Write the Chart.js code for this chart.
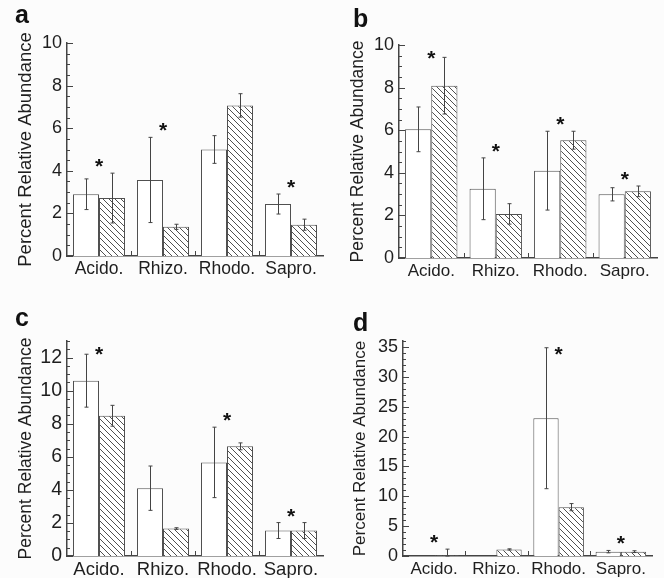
<!DOCTYPE html>
<html><head><meta charset="utf-8">
<script src="https://cdn.jsdelivr.net/npm/chart.js@4.4.1/dist/chart.umd.min.js"></script>
<style>
html,body{margin:0;padding:0;background:#fcfcfc;}
#wrap{position:relative;width:664px;height:578px;overflow:hidden;}
canvas{position:absolute;}
.lbl{position:absolute;font:bold 25px "Liberation Sans",Arial,sans-serif;line-height:25px;color:#111;}
</style></head><body>
<div id="wrap">
<canvas id="ca" width="332" height="289" style="left:0;top:0"></canvas>
<canvas id="cb" width="332" height="289" style="left:332px;top:0"></canvas>
<canvas id="cc" width="332" height="289" style="left:0;top:289px"></canvas>
<canvas id="cd" width="332" height="289" style="left:332px;top:289px"></canvas>
<div class="lbl" style="left:15px;top:2px">a</div>
<div class="lbl" style="left:353px;top:6px">b</div>
<div class="lbl" style="left:15px;top:305px">c</div>
<div class="lbl" style="left:353px;top:310px">d</div>
</div>
<script>
const categories = ['Acido.', 'Rhizo.', 'Rhodo.', 'Sapro.'];
const yTitle = 'Percent Relative Abundance';

// Panel a
const aOpen      = [2.90, 3.57, 5.00, 2.44];
const aOpenErr   = [0.72, 2.00, 0.65, 0.47];
const aHatch     = [2.72, 1.37, 7.07, 1.47];
const aHatchErr  = [1.17, 0.12, 0.55, 0.26];
const aStars     = [true, true, false, true];
const yTicksA    = [0, 2, 4, 6, 8, 10];

// Panel b
const bOpen      = [6.04, 3.25, 4.10, 2.99];
const bOpenErr   = [1.05, 1.45, 1.85, 0.31];
const bHatch     = [8.09, 2.07, 5.53, 3.13];
const bHatchErr  = [1.33, 0.48, 0.42, 0.25];
const bStars     = [true, true, true, true];
const yTicksB    = [0, 2, 4, 6, 8, 10];

// Panel c
const cOpen      = [10.60, 4.10, 5.66, 1.54];
const cOpenErr   = [1.60, 1.34, 2.13, 0.48];
const cHatch     = [8.48, 1.66, 6.63, 1.54];
const cHatchErr  = [0.63, 0.05, 0.21, 0.48];
const cStars     = [true, false, true, true];
const yTicksC    = [0, 2, 4, 6, 8, 10, 12];

// Panel d
const dOpen      = [0.00, 0.00, 23.07, 0.73];
const dOpenErr   = [0.00, 0.00, 11.80, 0.20];
const dHatch     = [0.05, 1.10, 8.18, 0.73];
const dHatchErr  = [1.10, 0.10, 0.60, 0.15];
const dStars     = [true, false, true, true];
const yTicksD    = [0, 5, 10, 15, 20, 25, 30, 35];

const FONT = '"Liberation Sans", Arial, sans-serif';
const AXIS = '#444444';
const BAR = '#505050';
const TXT = '#1e1e1e';

function makeHatch() {
  const c = document.createElement('canvas');
  c.width = 6; c.height = 6;
  const g = c.getContext('2d');
  g.fillStyle = '#ffffff'; g.fillRect(0, 0, 6, 6);
  g.strokeStyle = '#505050'; g.lineWidth = 1;
  g.beginPath();
  g.moveTo(-1, -1); g.lineTo(7, 7);
  g.moveTo(-1, 5); g.lineTo(1, 7);
  g.moveTo(5, -1); g.lineTo(7, 1);
  g.stroke();
  return g.createPattern(c, 'repeat');
}

const panels = [
  {id:'ca', open:aOpen, openErr:aOpenErr, hatch:aHatch, hatchErr:aHatchErr, stars:aStars, yTicks:yTicksA, yMax:10, minor:0.5, yWidth:67, xHeight:33, pad:{top:43, right:9}, titlePad:15, xFont:17.5, yFont:18, tFont:18.5},
  {id:'cb', open:bOpen, openErr:bOpenErr, hatch:bHatch, hatchErr:bHatchErr, stars:bStars, yTicks:yTicksB, yMax:10, minor:0.5, yWidth:67, xHeight:31, pad:{top:45, right:7}, titlePad:16, xFont:17, yFont:18, tFont:17.5},
  {id:'cc', open:cOpen, openErr:cOpenErr, hatch:cHatch, hatchErr:cHatchErr, stars:cStars, yTicks:yTicksC, yMax:13, minor:0.5, yWidth:67, xHeight:22, pad:{top:52, right:9}, titlePad:16, xFont:18.5, yFont:19.5, tFont:17.5},
  {id:'cd', open:dOpen, openErr:dOpenErr, hatch:dHatch, hatchErr:dHatchErr, stars:dStars, yTicks:yTicksD, yMax:36, minor:1, yWidth:71, xHeight:22, pad:{top:52, right:12}, titlePad:18, xFont:17, yFont:18, tFont:17}
];

const decor = {
  id: 'decor',
  afterDatasetsDraw(chart, args, opts) {
    const p = opts.panel;
    const ctx = chart.ctx, xs = chart.scales.x, ys = chart.scales.y, ca = chart.chartArea;
    ctx.save();
    ctx.strokeStyle = AXIS; ctx.lineWidth = 1;
    const tops = categories.map(() => Infinity);
    [[p.open, p.openErr], [p.hatch, p.hatchErr]].forEach(([vals, errs], di) => {
      const meta = chart.getDatasetMeta(di);
      meta.data.forEach((bar, j) => {
        const v = vals[j], e = errs[j];
        if (!e) return;
        const x = Math.round(bar.x) + 0.5;
        const yt = ys.getPixelForValue(v + e);
        const yb = ys.getPixelForValue(Math.max(0, v - e));
        ctx.beginPath();
        ctx.moveTo(x, yt); ctx.lineTo(x, yb);
        ctx.moveTo(x - 2, yt); ctx.lineTo(x + 2, yt);
        ctx.moveTo(x - 2, yb); ctx.lineTo(x + 2, yb);
        ctx.stroke();
        tops[j] = Math.min(tops[j], yt);
      });
    });
    // y ticks (inward)
    for (let v = 0; v <= ys.max + 1e-9; v += p.minor) {
      const y = Math.round(ys.getPixelForValue(v)) + 0.5;
      const major = p.yTicks.some(t => Math.abs(t - v) < 1e-6);
      ctx.beginPath(); ctx.moveTo(ca.left, y); ctx.lineTo(ca.left + (major ? 6 : 3), y); ctx.stroke();
    }
    // x ticks at category boundaries
    const w = (ca.right - ca.left) / categories.length;
    for (let k = 1; k < categories.length; k++) {
      const x = Math.round(ca.left + k * w) + 0.5;
      ctx.beginPath(); ctx.moveTo(x, ca.bottom); ctx.lineTo(x, ca.bottom - 5); ctx.stroke();
    }
    // significance stars
    ctx.fillStyle = '#111';
    ctx.font = 'bold 21px ' + FONT;
    ctx.textAlign = 'center'; ctx.textBaseline = 'alphabetic';
    p.stars.forEach((s, j) => {
      if (!s) return;
      const x = xs.getPixelForValue(j);
      let cy = isFinite(tops[j]) ? tops[j] - 11 : ys.getPixelForValue(0) - 11;
      cy = Math.max(cy, ca.top + 9);
      ctx.fillText('*', x, cy + 11);
    });
    ctx.restore();
  }
};

const hatchPattern = makeHatch();
const bw = c => (c.raw > 0 ? 1 : 0);

panels.forEach(p => {
  new Chart(document.getElementById(p.id), {
    type: 'bar',
    data: {
      labels: categories,
      datasets: [
        {data: p.open, backgroundColor: '#ffffff', borderColor: BAR, borderWidth: bw, barPercentage: 1, categoryPercentage: 0.8125},
        {data: p.hatch, backgroundColor: hatchPattern, borderColor: BAR, borderWidth: bw, barPercentage: 1, categoryPercentage: 0.8125}
      ]
    },
    options: {
      responsive: false,
      animation: false,
      layout: {padding: {top: p.pad.top, right: p.pad.right, left: 0, bottom: 0}},
      plugins: {legend: {display: false}, tooltip: {enabled: false}, decor: {panel: p}},
      scales: {
        x: {
          grid: {display: false, drawTicks: false},
          border: {display: true, color: AXIS, width: 1.5},
          ticks: {color: TXT, font: {size: p.xFont, family: FONT}, padding: 3, maxRotation: 0, autoSkip: false},
          afterFit(s) { s.height = p.xHeight; }
        },
        y: {
          min: 0, max: p.yMax,
          grid: {display: false, drawTicks: false},
          border: {display: true, color: AXIS, width: 1.5},
          ticks: {color: TXT, font: {size: p.yFont, family: FONT}, padding: 5},
          afterBuildTicks(s) { s.ticks = p.yTicks.map(v => ({value: v})); },
          afterFit(s) { s.width = p.yWidth; },
          title: {display: true, text: yTitle, color: TXT, font: {size: p.tFont, family: FONT}, padding: {top: p.titlePad, bottom: 0}}
        }
      }
    },
    plugins: [decor]
  });
});
</script>
</body></html>
